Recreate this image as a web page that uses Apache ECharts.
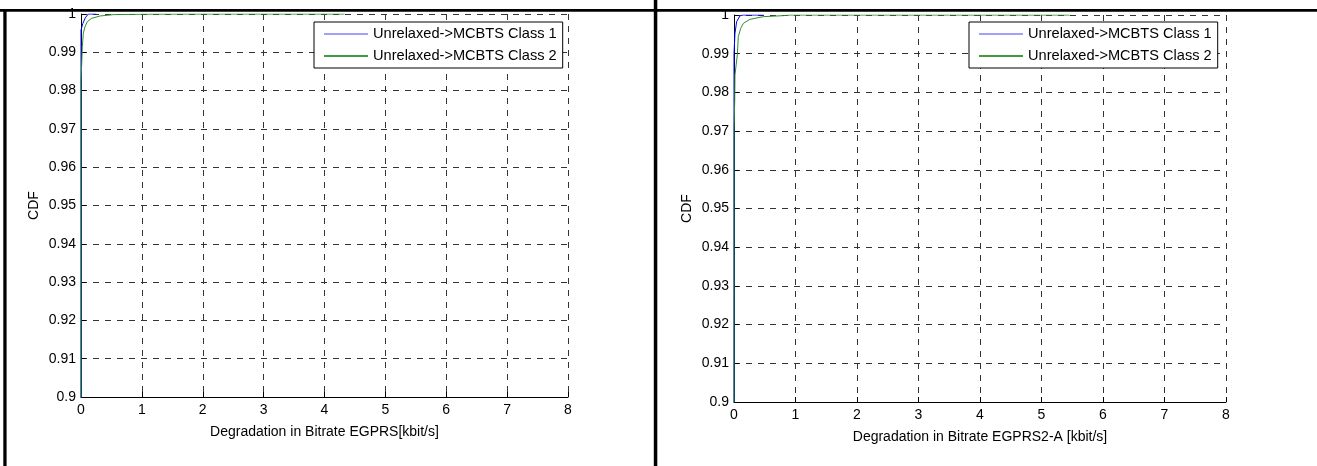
<!DOCTYPE html>
<html>
<head>
<meta charset="utf-8">
<script src="https://cdn.jsdelivr.net/npm/echarts@6/dist/echarts.min.js"></script>
<style>
html,body{margin:0;padding:0;background:#fff;}
#c{width:1317px;height:466px;}
</style>
</head>
<body>
<div id="c"></div>
<script>
// ---- data ----
const seriesNames = ['Unrelaxed->MCBTS Class 1', 'Unrelaxed->MCBTS Class 2'];
const xTickLabels = ['0','1','2','3','4','5','6','7','8'];
const yTickLabels = ['0.9','0.91','0.92','0.93','0.94','0.95','0.96','0.97','0.98','0.99','1'];
const xAxisTitles = ['Degradation in Bitrate EGPRS[kbit/s]', 'Degradation in Bitrate EGPRS2-A [kbit/s]'];
const yAxisTitle = 'CDF';

// Left panel (EGPRS)
const egprsClass1X = [0, 0, 0.03, 0.07, 0.12, 0.25];
const egprsClass1Y = [0.85, 0.9958, 0.9975, 0.9990, 1.0, 1.0];
const egprsClass2X = [0, 0, 0.022, 0.038, 0.066, 0.104, 0.175, 0.312, 0.531, 1.0, 2.0, 3.0, 4.33];
const egprsClass2Y = [0.85, 0.9823, 0.9915, 0.99495, 0.99669, 0.9980, 0.99887, 0.99948, 0.99983, 0.99995, 1.0, 1.0, 1.0];

// Right panel (EGPRS2-A)
const egprs2Class1X = [0, 0, 0.016, 0.043, 0.098, 0.15, 0.48];
const egprs2Class1Y = [0.85, 0.9901, 0.99527, 0.99828, 0.9998, 1.0, 1.0];
const egprs2Class2X = [0, 0, 0.012, 0.016, 0.054, 0.07, 0.109, 0.152, 0.26, 0.477, 0.8, 0.91, 2.0, 3.5, 5.46];
const egprs2Class2Y = [0.85, 0.9705, 0.978, 0.9845, 0.9897, 0.9944, 0.99656, 0.99785, 0.99888, 0.99957, 0.99983, 1.0, 1.0, 1.0, 1.0];

const zip = (xs, ys) => xs.map((x, i) => [x, ys[i]]);

const FONT = 'Liberation Sans, Arial, sans-serif';
const BLUE = '#0000ff';
const GREEN = '#2a8f2a';

function xAxisCfg(gi, title) {
  return {
    type: 'value', gridIndex: gi, min: 0, max: 8, interval: 1,
    name: title, nameLocation: 'middle', nameGap: 28,
    nameTextStyle: { color: '#000', fontSize: 14, fontFamily: FONT },
    axisLine: { show: true, onZero: false, lineStyle: { color: '#000', width: 1 } },
    axisTick: { show: true, inside: true, length: 5, lineStyle: { color: '#000' } },
    axisLabel: { color: '#000', fontSize: 14, fontFamily: FONT, margin: 6,
      formatter: (v) => xTickLabels[Math.round(v)] },
    splitLine: { show: true, lineStyle: { color: '#333', width: 1, type: [6, 6] } }
  };
}
function yAxisCfg(gi) {
  return {
    type: 'value', gridIndex: gi, min: 0.9, max: 1, interval: 0.01,
    name: yAxisTitle, nameLocation: 'middle', nameGap: 40,
    nameTextStyle: { color: '#000', fontSize: 14, fontFamily: FONT },
    axisLine: { show: true, onZero: false, lineStyle: { color: '#000', width: 1 } },
    axisTick: { show: true, inside: true, length: 5, lineStyle: { color: '#000' } },
    axisLabel: { color: '#000', fontSize: 14, fontFamily: FONT, margin: 5,
      formatter: (v) => yTickLabels[Math.round((v - 0.9) * 100)] },
    splitLine: { show: true, lineStyle: { color: '#333', width: 1, type: [6, 6] } }
  };
}
function legendCfg(left) {
  return {
    left: left, top: 22, orient: 'vertical',
    backgroundColor: '#fff', borderColor: '#000', borderWidth: 1, borderRadius: 0,
    padding: [4, 6, 4, 10], itemGap: 6, itemWidth: 44, itemHeight: 1.6,
    icon: 'rect',
    textStyle: { color: '#000', fontSize: 14.6, fontFamily: FONT, lineHeight: 16 },
    data: [
      { name: seriesNames[0], itemStyle: { color: '#8080ff' } },
      { name: seriesNames[1], itemStyle: { color: '#007a00' } }
    ],
    selectedMode: false
  };
}
function lineSeries(name, xi, data, color) {
  return {
    type: 'line', name: name, xAxisIndex: xi, yAxisIndex: xi,
    data: data, showSymbol: false, symbol: 'none', smooth: false, clip: true,
    lineStyle: { color: color, width: 1 }, itemStyle: { color: color },
    animation: false, z: 3
  };
}

const chart = echarts.init(document.getElementById('c'), null, { renderer: 'canvas' });
chart.setOption({
  animation: false,
  backgroundColor: '#fff',
  grid: [
    { left: 81, top: 14, width: 487, height: 383 },
    { left: 734, top: 15, width: 492, height: 387 }
  ],
  xAxis: [xAxisCfg(0, xAxisTitles[0]), xAxisCfg(1, xAxisTitles[1])],
  yAxis: [yAxisCfg(0), yAxisCfg(1)],
  legend: [legendCfg(314), legendCfg(969)],
  series: [
    lineSeries(seriesNames[0], 0, zip(egprsClass1X, egprsClass1Y), BLUE),
    lineSeries(seriesNames[1], 0, zip(egprsClass2X, egprsClass2Y), GREEN),
    lineSeries(seriesNames[0], 1, zip(egprs2Class1X, egprs2Class1Y), BLUE),
    lineSeries(seriesNames[1], 1, zip(egprs2Class2X, egprs2Class2Y), GREEN)
  ],
  graphic: [
    { type: 'rect', shape: { x: 0, y: 9, width: 1317, height: 2.7 }, style: { fill: '#000' }, z: 100 },
    { type: 'rect', shape: { x: 3.3, y: 9, width: 3.3, height: 457 }, style: { fill: '#000' }, z: 100 },
    { type: 'rect', shape: { x: 653.8, y: 0, width: 3.5, height: 466 }, style: { fill: '#000' }, z: 100 }
  ]
});
</script>
</body>
</html>
